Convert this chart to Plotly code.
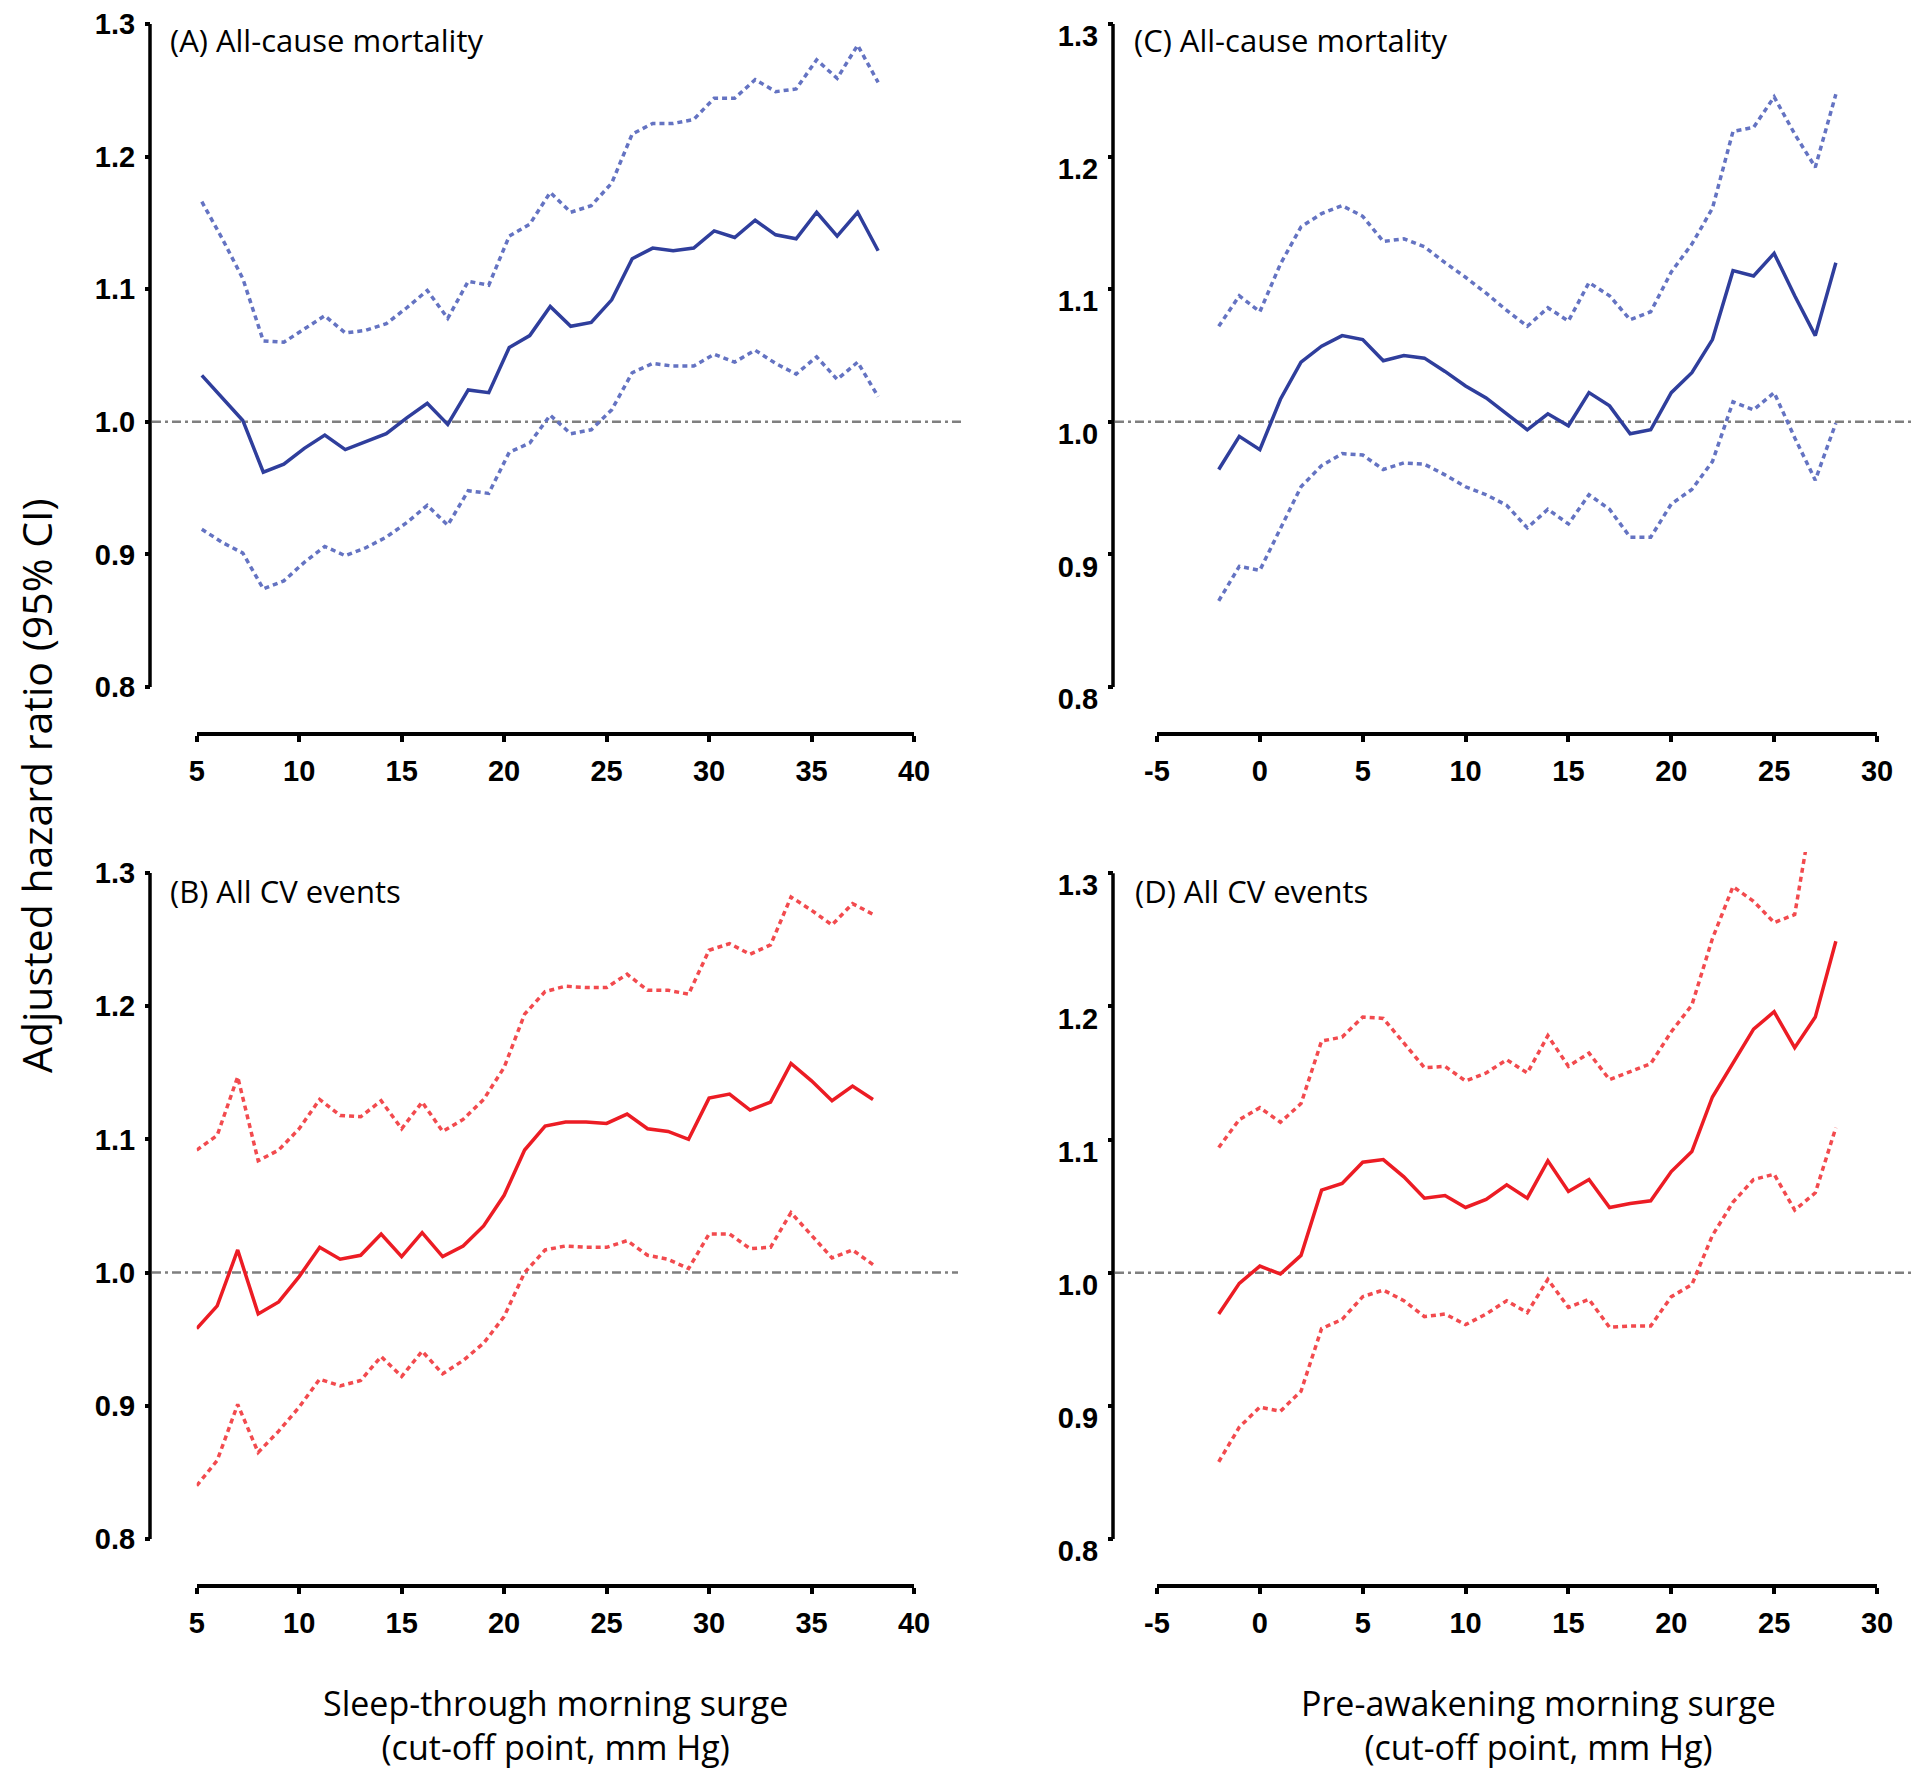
import plotly.graph_objects as go

W, H = 1920, 1775
PAGE_OFFSET = 8  # default body margin of the html page

# ---------------- data ----------------
# Panel A: sleep-through morning surge, all-cause mortality
xA = [5.25, 6.25, 7.25, 8.25, 9.25, 10.25, 11.25, 12.25, 13.25, 14.25, 15.25, 16.25,
      17.25, 18.25, 19.25, 20.25, 21.25, 22.25, 23.25, 24.25, 25.25, 26.25, 27.25,
      28.25, 29.25, 30.25, 31.25, 32.25, 33.25, 34.25, 35.25, 36.25, 37.25, 38.25]
hrA = [1.035, 1.018, 1.001, 0.962, 0.968, 0.980, 0.990, 0.979, 0.985, 0.991, 1.003, 1.014,
       0.998, 1.024, 1.022, 1.056, 1.065, 1.087, 1.072, 1.075, 1.092, 1.123, 1.131,
       1.129, 1.131, 1.144, 1.139, 1.152, 1.141, 1.138, 1.158, 1.140, 1.158, 1.129]
hiA = [1.166, 1.138, 1.108, 1.061, 1.060, 1.070, 1.080, 1.067, 1.069, 1.074, 1.086, 1.099,
       1.078, 1.106, 1.103, 1.140, 1.149, 1.173, 1.158, 1.163, 1.180, 1.217, 1.225,
       1.225, 1.228, 1.244, 1.244, 1.258, 1.249, 1.251, 1.273, 1.259, 1.284, 1.256]
loA = [0.919, 0.909, 0.901, 0.874, 0.880, 0.894, 0.906, 0.899, 0.905, 0.913, 0.924, 0.937,
       0.922, 0.948, 0.946, 0.977, 0.984, 1.005, 0.991, 0.994, 1.009, 1.037, 1.044,
       1.042, 1.042, 1.051, 1.045, 1.054, 1.044, 1.036, 1.049, 1.032, 1.045, 1.019]

# Panel B: sleep-through morning surge, all CV events
xB = [5, 6, 7, 8, 9, 10, 11, 12, 13, 14, 15, 16, 17, 18, 19, 20, 21, 22, 23, 24, 25,
      26, 27, 28, 29, 30, 31, 32, 33, 34, 35, 36, 37, 38]
hrB = [0.958, 0.975, 1.017, 0.969, 0.978, 0.997, 1.019, 1.010, 1.013, 1.029, 1.012, 1.030,
       1.012, 1.020, 1.035, 1.058, 1.092, 1.110, 1.113, 1.113, 1.112, 1.119, 1.108,
       1.106, 1.100, 1.131, 1.134, 1.122, 1.128, 1.157, 1.144, 1.129, 1.140, 1.130]
hiB = [1.092, 1.103, 1.147, 1.084, 1.092, 1.108, 1.130, 1.118, 1.117, 1.129, 1.108, 1.128,
       1.106, 1.115, 1.130, 1.154, 1.194, 1.211, 1.215, 1.214, 1.214, 1.224, 1.212,
       1.212, 1.209, 1.242, 1.247, 1.239, 1.246, 1.282, 1.272, 1.261, 1.277, 1.269]
loB = [0.840, 0.859, 0.901, 0.865, 0.881, 0.899, 0.920, 0.915, 0.919, 0.937, 0.922, 0.941,
       0.924, 0.934, 0.947, 0.967, 1.000, 1.017, 1.020, 1.019, 1.019, 1.024, 1.013,
       1.010, 1.003, 1.029, 1.029, 1.018, 1.019, 1.045, 1.028, 1.011, 1.017, 1.006]

# Panel C: pre-awakening morning surge, all-cause mortality
xC = [-2, -1, 0, 1, 2, 3, 4, 5, 6, 7, 8, 9, 10, 11, 12, 13, 14, 15, 16, 17, 18, 19,
      20, 21, 22, 23, 24, 25, 26, 27, 28]
hrC = [0.964, 0.989, 0.979, 1.017, 1.045, 1.057, 1.065, 1.062, 1.046, 1.050, 1.048, 1.038,
       1.027, 1.018, 1.006, 0.994, 1.006, 0.997, 1.022, 1.012, 0.991, 0.994, 1.022,
       1.037, 1.062, 1.114, 1.110, 1.127, 1.095, 1.065, 1.120]
hiC = [1.072, 1.095, 1.083, 1.119, 1.147, 1.157, 1.163, 1.155, 1.136, 1.138, 1.132, 1.120,
       1.109, 1.097, 1.084, 1.072, 1.086, 1.076, 1.105, 1.095, 1.077, 1.083, 1.113,
       1.134, 1.161, 1.219, 1.222, 1.245, 1.217, 1.192, 1.247]
loC = [0.865, 0.891, 0.888, 0.919, 0.951, 0.967, 0.976, 0.975, 0.964, 0.969, 0.968, 0.960,
       0.951, 0.945, 0.937, 0.920, 0.934, 0.923, 0.945, 0.934, 0.913, 0.913, 0.938,
       0.949, 0.970, 1.015, 1.009, 1.022, 0.988, 0.956, 0.999]

# Panel D: pre-awakening morning surge, all CV events
xD = [-2, -1, 0, 1, 2, 3, 4, 5, 6, 7, 8, 9, 10, 11, 12, 13, 14, 15, 16, 17, 18, 19,
      20, 21, 22, 23, 24, 25, 26, 27, 28]
hrD = [0.969, 0.992, 1.005, 0.999, 1.013, 1.062, 1.067, 1.083, 1.085, 1.072, 1.056, 1.058,
       1.049, 1.055, 1.066, 1.056, 1.084, 1.061, 1.070, 1.049, 1.052, 1.054, 1.076,
       1.091, 1.132, 1.157, 1.183, 1.196, 1.169, 1.192, 1.249]
xDhi = [-2, -1, 0, 1, 2, 3, 4, 5, 6, 7, 8, 9, 10, 11, 12, 13, 14, 15, 16, 17, 18, 19,
        20, 21, 22, 23, 24, 25, 26, 27]
hiD = [1.094, 1.115, 1.124, 1.113, 1.127, 1.174, 1.177, 1.192, 1.191, 1.172, 1.154, 1.155,
       1.144, 1.150, 1.160, 1.150, 1.178, 1.155, 1.165, 1.145, 1.151, 1.157, 1.181,
       1.201, 1.251, 1.290, 1.279, 1.263, 1.269, 1.360]
loD = [0.858, 0.884, 0.899, 0.896, 0.911, 0.958, 0.965, 0.982, 0.987, 0.979, 0.967, 0.969,
       0.961, 0.969, 0.979, 0.970, 0.995, 0.974, 0.980, 0.959, 0.960, 0.960, 0.982,
       0.991, 1.028, 1.053, 1.070, 1.074, 1.047, 1.060, 1.109]

# tick values / labels
yTicks = [0.8, 0.9, 1.0, 1.1, 1.2, 1.3]
yTickText = ["0.8", "0.9", "1.0", "1.1", "1.2", "1.3"]
xTicksLeft = [5, 10, 15, 20, 25, 30, 35, 40]
xTickTextLeft = ["5", "10", "15", "20", "25", "30", "35", "40"]
xTicksRight = [-5, 0, 5, 10, 15, 20, 25, 30]
xTickTextRight = ["-5", "0", "5", "10", "15", "20", "25", "30"]

panelTitles = ["(A) All-cause mortality", "(C) All-cause mortality",
               "(B) All CV events", "(D) All CV events"]
xTitles = ["Sleep-through morning surge<br>(cut-off point, mm Hg)",
           "Pre-awakening morning surge<br>(cut-off point, mm Hg)"]
yTitle = "Adjusted hazard ratio (95% CI)"

# ---------------- styling ----------------
BLUE = "#2f3e9c"
BLUE_CI = "#6473c2"
RED = "#ec1c24"
RED_CI = "#f24a4e"
GREY = "#7f7f7f"
TXT_FONT = "Open Sans"
TICK_FONT = dict(family="Liberation Sans", size=29, color="black", weight="bold")


def px_x(p):
    return (p - PAGE_OFFSET) / W


def px_y(p):
    return 1 - (p - PAGE_OFFSET) / H


# geometry (pixels in the 1920x1775 page)
panels = [
    dict(sx="", xd=(196.7, 914), yaxis_x=150, y08=687, ytop=24, ytopv=1.3, xaxis_y=734,
         xticks=xTicksLeft, xtt=xTickTextLeft, xr=[5, 40], ref_end=963, shift=0),
    dict(sx="2", xd=(1157, 1877), yaxis_x=1113, y08=687, ytop=24, ytopv=1.3, xaxis_y=734,
         xticks=xTicksRight, xtt=xTickTextRight, xr=[-5, 30], ref_end=1912, shift=12),
    dict(sx="3", xd=(196.7, 914), yaxis_x=150, y08=1539, ytop=873, ytopv=1.3, xaxis_y=1586,
         xticks=xTicksLeft, xtt=xTickTextLeft, xr=[5, 40], ref_end=958, shift=0),
    dict(sx="4", xd=(1157, 1877), yaxis_x=1113, y08=1539, ytop=852, ytopv=1.316, xaxis_y=1586,
         xticks=xTicksRight, xtt=xTickTextRight, xr=[-5, 30], ref_end=1912, shift=12),
]

series = [
    (xA, hrA, xA, hiA, xA, loA, BLUE, BLUE_CI),
    (xC, hrC, xC, hiC, xC, loC, BLUE, BLUE_CI),
    (xB, hrB, xB, hiB, xB, loB, RED, RED_CI),
    (xD, hrD, xDhi, hiD, xD, loD, RED, RED_CI),
]

fig = go.Figure()
layout_axes = {}
shapes = []
annotations = []

for p, (xs, hr, xh, hi, xl, lo, c, cci) in zip(panels, series):
    s = p["sx"]
    xref = "x" + s
    yref = "y" + s
    for xx, yy, col, dash in [(xh, hi, cci, "5px,4px"), (xl, lo, cci, "5px,4px"), (xs, hr, c, "solid")]:
        fig.add_trace(go.Scatter(x=xx, y=yy, mode="lines", xaxis=xref, yaxis=yref,
                                 line=dict(color=col, width=3.5, dash=dash),
                                 showlegend=False, hoverinfo="skip"))
    layout_axes["xaxis" + s] = dict(
        domain=[px_x(p["xd"][0]), px_x(p["xd"][1])], range=p["xr"], anchor="free",
        position=px_y(p["xaxis_y"]), showline=True, linecolor="black", linewidth=3.5,
        ticks="outside", ticklen=6, tickwidth=3.5, tickcolor="black",
        tickvals=p["xticks"], ticktext=p["xtt"], tickfont=TICK_FONT, ticklabelstandoff=4,
        showgrid=False, zeroline=False, fixedrange=True, automargin=False)
    layout_axes["yaxis" + s] = dict(
        domain=[px_y(p["y08"]), px_y(p["ytop"])], range=[0.8, p["ytopv"]], anchor="free",
        position=px_x(p["yaxis_x"]), showline=False,
        ticks="outside", ticklen=5, tickwidth=3.5, tickcolor="black",
        tickvals=yTicks, ticktext=yTickText, tickfont=TICK_FONT,
        ticklabelshift=p["shift"], ticklabelstandoff=4,
        showgrid=False, zeroline=False, fixedrange=True, automargin=False)
    # y-axis line (0.8 -> 1.3)
    shapes.append(dict(type="line", xref="paper", yref=yref,
                       x0=px_x(p["yaxis_x"]), x1=px_x(p["yaxis_x"]), y0=0.8, y1=1.3,
                       line=dict(color="black", width=3.5), layer="above"))
    # reference line at HR = 1.0
    shapes.append(dict(type="line", xref="paper", yref=yref,
                       x0=px_x(p["yaxis_x"] + 2), x1=px_x(p["ref_end"]), y0=1.0, y1=1.0,
                       line=dict(color=GREY, width=2.5, dash="9px,4px,3px,4px"), layer="below"))

# panel titles
title_pos = [(168, 40), (1132, 40), (168, 891), (1133, 891)]
for t, (tx, ty) in zip(panelTitles, title_pos):
    annotations.append(dict(text=t, x=px_x(tx), y=px_y(ty), xref="paper", yref="paper",
                            xanchor="left", yanchor="middle", showarrow=False,
                            font=dict(family=TXT_FONT, size=31, color="black")))

# x-axis titles (two lines each)
for txt, cx in zip(xTitles, [555, 1538]):
    annotations.append(dict(text=txt, x=px_x(cx), y=px_y(1725), xref="paper", yref="paper",
                            xanchor="center", yanchor="middle", showarrow=False,
                            align="center",
                            font=dict(family=TXT_FONT, size=34, color="black")))

# y-axis title
annotations.append(dict(text=yTitle, x=px_x(36), y=px_y(786), xref="paper", yref="paper",
                        xanchor="center", yanchor="middle", showarrow=False, textangle=-90,
                        font=dict(family=TXT_FONT, size=41, color="black")))

fig.update_layout(width=W, height=H,
                  margin=dict(l=0, r=0, t=0, b=0, pad=0, autoexpand=False),
                  paper_bgcolor="white", plot_bgcolor="white",
                  shapes=shapes, annotations=annotations, showlegend=False,
                  font=dict(family=TXT_FONT), **layout_axes)

fig.write_html("out.html", config={"displayModeBar": False})
